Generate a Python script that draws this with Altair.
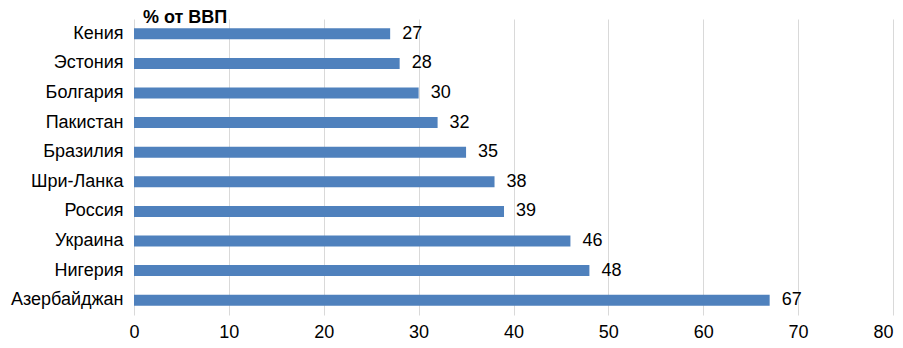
import altair as alt
import pandas as pd

countries = ["Кения", "Эстония", "Болгария", "Пакистан", "Бразилия",
             "Шри-Ланка", "Россия", "Украина", "Нигерия", "Азербайджан"]
values = [27, 28, 30, 32, 35, 38, 39, 46, 48, 67]
x_ticks = [0, 10, 20, 30, 40, 50, 60, 70, 80]
title_text = "% от ВВП"

df = pd.DataFrame({"country": countries, "value": values})

FONT = "Liberation Sans"

x = alt.X("value:Q", scale=alt.Scale(domain=[0, 80], nice=False),
          axis=alt.Axis(values=x_ticks, title=None, domain=False, ticks=False,
                        grid=True, gridColor="#d9d9d9", gridWidth=1,
                        labelFlush=False,
                        labelAlign=alt.ExprRef(expr="datum.value >= 80 ? 'right' : 'center'"),
                        labelFont=FONT, labelFontSize=18, labelColor="#000000",
                        labelPadding=8))
y = alt.Y("country:N", sort=countries,
          scale=alt.Scale(paddingInner=0.63, paddingOuter=0.315),
          axis=alt.Axis(title=None, domain=False, ticks=False,
                        labelFont=FONT, labelFontSize=18, labelColor="#000000",
                        labelPadding=11))

bars = alt.Chart(df).mark_bar(color="#4F81BD").encode(x=x, y=y)
labels = alt.Chart(df).mark_text(align="left", baseline="middle", dx=12,
                                 font=FONT, fontSize=18, color="#000000").encode(
    x="value:Q", y=alt.Y("country:N", sort=countries), text="value:Q")
title = alt.Chart(pd.DataFrame({"t": [title_text]})).mark_text(
    align="left", baseline="alphabetic", font=FONT, fontSize=18,
    fontWeight="bold", color="#000000").encode(
    x=alt.value(9), y=alt.value(4), text="t:N")

chart = alt.layer(bars, labels, title).properties(
    width=759, height=296,
    autosize=alt.AutoSizeParams(type="none"),
    padding={"left": 126, "top": 11, "right": 2, "bottom": 25},
).configure_view(stroke=None)

chart.save("out.html", embed_options={"renderer": "svg", "actions": False})
